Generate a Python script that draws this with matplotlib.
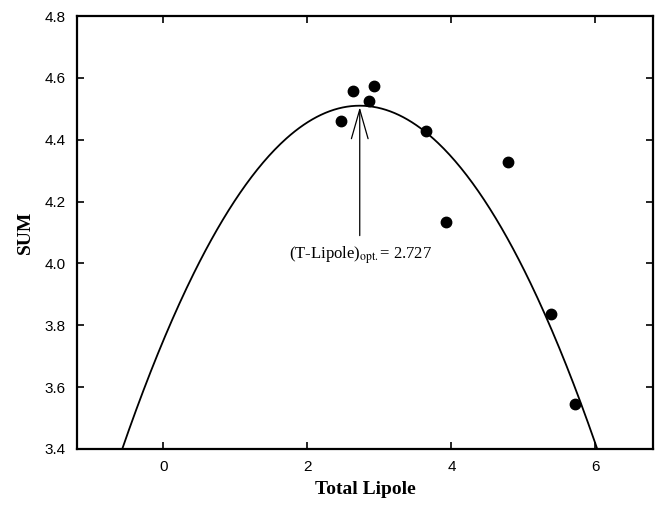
import numpy as np
import matplotlib
matplotlib.use("Agg")
import matplotlib.pyplot as plt

# Data
total_lipole = [2.47, 2.64, 2.85, 2.93, 3.65, 3.92, 4.78, 5.38, 5.71]
sum_values = [4.46, 4.557, 4.525, 4.575, 4.427, 4.135, 4.327, 3.836, 3.546]

# Fitted quadratic: SUM = peak - a * (x - x_opt)^2
x_opt = 2.727
peak_sum = 4.51
curv = 0.102

x_ticks = [0, 2, 4, 6]
y_ticks = [3.4, 3.6, 3.8, 4.0, 4.2, 4.4, 4.6, 4.8]

plt.rcParams['mathtext.fontset'] = 'stix'

fig = plt.figure(figsize=(6.64, 5.13), dpi=100)
ax = fig.add_axes([77/664, 1 - 449/513, (653-77)/664, (449-16)/513])

xs = np.linspace(-1.2, 6.8, 400)
ax.plot(xs, peak_sum - curv * (xs - x_opt) ** 2, color='black', lw=1.3)
ax.plot(total_lipole, sum_values, 'o', color='black', ms=7.5)

ax.annotate('', xy=(x_opt, peak_sum - 0.005), xytext=(x_opt, 4.09),
            arrowprops=dict(arrowstyle='->,head_length=21,head_width=6',
                            mutation_scale=1, color='black', lw=0.9,
                            shrinkA=0, shrinkB=0))
ax.text(2.74, 4.025, r'(T-Lipole)$_{\mathrm{opt.}}$= 2.727', ha='center', va='center',
        fontsize=12, family='Liberation Serif')

ax.set_xlim(-1.2, 6.8)
ax.set_ylim(3.4, 4.8)
ax.set_xticks(x_ticks)
ax.set_yticks(y_ticks)
ax.set_yticklabels([f'{v:.1f}' for v in y_ticks])
ax.tick_params(direction='in', length=5, width=1.2, top=True, right=True,
               labelsize=11, pad=8)
for lab in ax.get_xticklabels() + ax.get_yticklabels():
    lab.set_family('Liberation Sans')
for sp in ax.spines.values():
    sp.set_linewidth(1.6)

ax.set_xlabel('Total Lipole', family='Liberation Serif', fontweight='bold',
              fontsize=14, labelpad=5)
ax.set_ylabel('SUM', family='Liberation Serif', fontweight='bold',
              fontsize=14, labelpad=8)

fig.savefig('out.png', dpi=100)
